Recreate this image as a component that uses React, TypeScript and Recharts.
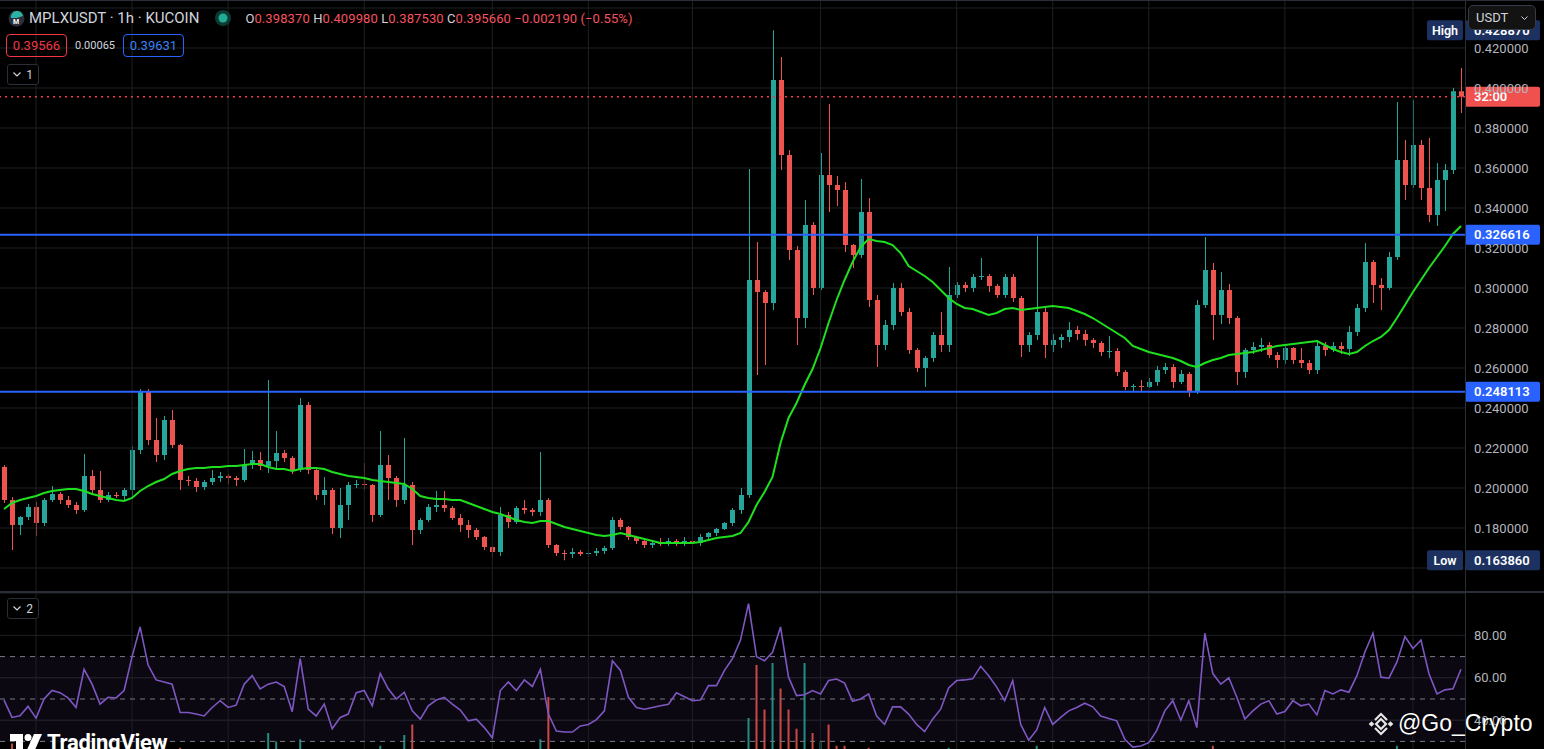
import React from 'react';
import {
  Bar,
  CartesianGrid,
  Cell,
  ComposedChart,
  Line,
  ReferenceArea,
  ReferenceLine,
  XAxis,
  YAxis,
} from 'recharts';

const ohlc: [number, number, number, number][] = [
  [0.2105, 0.2115, 0.1925, 0.194], [0.194, 0.1955, 0.169, 0.1815], [0.1815, 0.186, 0.1765, 0.1855],
  [0.1855, 0.192, 0.184, 0.1905], [0.1905, 0.193, 0.176, 0.1825], [0.1825, 0.195, 0.181, 0.194],
  [0.194, 0.201, 0.193, 0.197], [0.197, 0.198, 0.192, 0.194], [0.194, 0.196, 0.19, 0.1915],
  [0.1915, 0.193, 0.187, 0.189], [0.189, 0.217, 0.188, 0.206], [0.206, 0.209, 0.197, 0.199],
  [0.199, 0.2085, 0.1925, 0.194], [0.194, 0.198, 0.193, 0.1965], [0.1965, 0.198, 0.195, 0.196],
  [0.196, 0.2, 0.194, 0.199], [0.199, 0.221, 0.195, 0.219], [0.219, 0.2495, 0.217, 0.248],
  [0.248, 0.2495, 0.2215, 0.224], [0.224, 0.235, 0.213, 0.2165], [0.2165, 0.236, 0.214, 0.234],
  [0.234, 0.239, 0.22, 0.2215], [0.2215, 0.222, 0.199, 0.204], [0.204, 0.206, 0.201, 0.2035],
  [0.2035, 0.205, 0.198, 0.2005], [0.2005, 0.204, 0.199, 0.203], [0.203, 0.209, 0.2015, 0.205],
  [0.205, 0.208, 0.203, 0.206], [0.206, 0.207, 0.202, 0.205], [0.205, 0.206, 0.201, 0.204],
  [0.204, 0.2195, 0.203, 0.2115], [0.2115, 0.2185, 0.2095, 0.214], [0.214, 0.218, 0.209, 0.211],
  [0.211, 0.254, 0.2075, 0.2135], [0.2135, 0.2285, 0.209, 0.2175], [0.2175, 0.219, 0.213, 0.215],
  [0.215, 0.216, 0.207, 0.209], [0.209, 0.245, 0.208, 0.2415], [0.2415, 0.243, 0.207, 0.209],
  [0.209, 0.21, 0.194, 0.1965], [0.1965, 0.2055, 0.1915, 0.199], [0.199, 0.2, 0.177, 0.18],
  [0.18, 0.2, 0.175, 0.1915], [0.1915, 0.203, 0.184, 0.2015], [0.2015, 0.204, 0.2, 0.202],
  [0.202, 0.2125, 0.199, 0.2015], [0.2015, 0.202, 0.183, 0.1865], [0.1865, 0.2285, 0.1855, 0.2115],
  [0.2115, 0.2165, 0.194, 0.205], [0.205, 0.206, 0.1905, 0.194], [0.194, 0.225, 0.192, 0.2015],
  [0.2015, 0.203, 0.1715, 0.179], [0.179, 0.185, 0.177, 0.184], [0.184, 0.192, 0.183, 0.1905],
  [0.1905, 0.1985, 0.188, 0.1915], [0.1915, 0.1985, 0.188, 0.19], [0.19, 0.191, 0.184, 0.185],
  [0.185, 0.187, 0.178, 0.1815], [0.1815, 0.184, 0.175, 0.179], [0.179, 0.18, 0.174, 0.1755],
  [0.1755, 0.176, 0.169, 0.1705], [0.1705, 0.171, 0.165, 0.168], [0.168, 0.1905, 0.166, 0.1865],
  [0.1865, 0.188, 0.18, 0.183], [0.183, 0.191, 0.182, 0.19], [0.19, 0.194, 0.187, 0.189],
  [0.189, 0.19, 0.186, 0.188], [0.188, 0.218, 0.186, 0.194], [0.194, 0.195, 0.17, 0.1715],
  [0.1715, 0.172, 0.166, 0.1675], [0.1675, 0.169, 0.16386, 0.167], [0.167, 0.17, 0.165, 0.168],
  [0.168, 0.169, 0.166, 0.167], [0.167, 0.169, 0.1655, 0.1675], [0.1675, 0.17, 0.166, 0.1685],
  [0.1685, 0.171, 0.167, 0.17], [0.17, 0.1855, 0.169, 0.184], [0.184, 0.185, 0.179, 0.1805],
  [0.1805, 0.181, 0.174, 0.1755], [0.1755, 0.176, 0.172, 0.1735], [0.1735, 0.174, 0.17, 0.1715],
  [0.1715, 0.174, 0.17, 0.1725], [0.1725, 0.175, 0.171, 0.172], [0.172, 0.175, 0.171, 0.1735],
  [0.1735, 0.1745, 0.171, 0.1725], [0.1725, 0.1755, 0.171, 0.1735], [0.1735, 0.1745, 0.171, 0.1725],
  [0.1725, 0.177, 0.171, 0.1755], [0.1755, 0.178, 0.174, 0.1775], [0.1775, 0.18, 0.176, 0.1795],
  [0.1795, 0.183, 0.179, 0.1825], [0.1825, 0.19, 0.181, 0.189], [0.189, 0.2, 0.187, 0.1965],
  [0.1965, 0.3595, 0.195, 0.304], [0.304, 0.323, 0.2565, 0.298], [0.298, 0.299, 0.2615, 0.2925],
  [0.2925, 0.42887, 0.289, 0.404], [0.404, 0.4155, 0.359, 0.3665], [0.3665, 0.369, 0.314, 0.319],
  [0.319, 0.321, 0.2715, 0.285], [0.285, 0.344, 0.28, 0.3315], [0.3315, 0.333, 0.2965, 0.3],
  [0.3, 0.3675, 0.299, 0.3565], [0.3565, 0.392, 0.338, 0.3515], [0.3515, 0.356, 0.341, 0.349],
  [0.349, 0.353, 0.318, 0.3215], [0.3215, 0.322, 0.31, 0.3165], [0.3165, 0.3545, 0.315, 0.338],
  [0.338, 0.345, 0.2905, 0.294], [0.294, 0.2965, 0.2605, 0.2715], [0.2715, 0.284, 0.269, 0.2815],
  [0.2815, 0.3025, 0.279, 0.3], [0.3, 0.3025, 0.286, 0.288], [0.288, 0.29, 0.267, 0.269],
  [0.269, 0.27, 0.258, 0.26], [0.26, 0.266, 0.2505, 0.265], [0.265, 0.278, 0.263, 0.2765],
  [0.2765, 0.288, 0.268, 0.2715], [0.2715, 0.3105, 0.268, 0.2965], [0.2965, 0.303, 0.295, 0.3015],
  [0.3015, 0.303, 0.298, 0.3], [0.3, 0.307, 0.298, 0.3055], [0.3055, 0.315, 0.304, 0.306],
  [0.306, 0.307, 0.298, 0.301], [0.301, 0.302, 0.295, 0.2965], [0.2965, 0.307, 0.295, 0.3055],
  [0.3055, 0.307, 0.293, 0.295], [0.295, 0.296, 0.2655, 0.2715], [0.2715, 0.278, 0.268, 0.2765],
  [0.2765, 0.326, 0.274, 0.288], [0.288, 0.29, 0.265, 0.2715], [0.2715, 0.277, 0.268, 0.274],
  [0.274, 0.277, 0.27, 0.2755], [0.2755, 0.283, 0.273, 0.279], [0.279, 0.281, 0.274, 0.277],
  [0.277, 0.279, 0.271, 0.274], [0.274, 0.275, 0.27, 0.2725], [0.2725, 0.2735, 0.266, 0.268],
  [0.268, 0.276, 0.265, 0.2685], [0.2685, 0.27, 0.256, 0.258], [0.258, 0.259, 0.249, 0.2505],
  [0.2505, 0.252, 0.248, 0.251], [0.251, 0.254, 0.248, 0.2505], [0.2505, 0.255, 0.25, 0.253],
  [0.253, 0.261, 0.251, 0.259], [0.259, 0.2625, 0.257, 0.2605], [0.2605, 0.262, 0.25, 0.253],
  [0.253, 0.259, 0.252, 0.257], [0.257, 0.258, 0.2455, 0.248], [0.248, 0.294, 0.247, 0.2915],
  [0.2915, 0.3255, 0.29, 0.309], [0.309, 0.3125, 0.274, 0.2865], [0.2865, 0.308, 0.282, 0.299],
  [0.299, 0.302, 0.282, 0.285], [0.285, 0.286, 0.2515, 0.258], [0.258, 0.27, 0.255, 0.269],
  [0.269, 0.273, 0.267, 0.2705], [0.2705, 0.275, 0.268, 0.2715], [0.2715, 0.273, 0.265, 0.2665],
  [0.2665, 0.268, 0.26, 0.264], [0.264, 0.272, 0.262, 0.27], [0.27, 0.2705, 0.262, 0.264],
  [0.264, 0.27, 0.26, 0.2625], [0.2625, 0.264, 0.257, 0.259], [0.259, 0.274, 0.257, 0.271],
  [0.271, 0.273, 0.266, 0.269], [0.269, 0.273, 0.268, 0.271], [0.271, 0.273, 0.267, 0.2695],
  [0.2695, 0.281, 0.266, 0.278], [0.278, 0.292, 0.276, 0.29], [0.29, 0.3225, 0.288, 0.313],
  [0.313, 0.314, 0.2925, 0.3015], [0.3015, 0.305, 0.289, 0.3], [0.3, 0.318, 0.299, 0.3155],
  [0.3155, 0.393, 0.314, 0.364], [0.364, 0.374, 0.344, 0.3515], [0.3515, 0.394, 0.35, 0.3715],
  [0.3715, 0.374, 0.344, 0.35], [0.35, 0.375, 0.333, 0.3365], [0.3365, 0.3625, 0.331, 0.354],
  [0.354, 0.362, 0.3385, 0.359], [0.359, 0.4, 0.357, 0.39837], [0.39837, 0.40998, 0.38753, 0.39566],
];

// green moving average
const maValues = [
  0.1895, 0.1925, 0.194, 0.195, 0.196, 0.1975, 0.1985, 0.199, 0.1995, 0.1995,
  0.1985, 0.197, 0.196, 0.195, 0.194, 0.1935, 0.195, 0.1985, 0.201, 0.203,
  0.2045, 0.207, 0.2085, 0.2095, 0.21, 0.21, 0.2105, 0.2105, 0.211, 0.211,
  0.2115, 0.212, 0.212, 0.2105, 0.2095, 0.2095, 0.2085, 0.2095, 0.21, 0.21,
  0.2095, 0.208, 0.207, 0.206, 0.2055, 0.205, 0.204, 0.2035, 0.203, 0.2025,
  0.202, 0.1995, 0.196, 0.195, 0.1945, 0.1945, 0.194, 0.194, 0.1925, 0.191,
  0.1895, 0.188, 0.187, 0.1855, 0.184, 0.183, 0.1825, 0.1835, 0.1835, 0.182,
  0.1805, 0.1795, 0.1785, 0.1775, 0.1765, 0.176, 0.1765, 0.1775, 0.1765, 0.1755,
  0.1745, 0.1735, 0.1725, 0.1725, 0.1725, 0.1725, 0.1725, 0.173, 0.174, 0.175,
  0.1755, 0.176, 0.1775, 0.183, 0.1915, 0.198, 0.2055, 0.2225, 0.235, 0.2425,
  0.2515, 0.2595, 0.27, 0.2825, 0.294, 0.304, 0.313, 0.3205, 0.3245, 0.3235,
  0.323, 0.3215, 0.3175, 0.311, 0.3085, 0.306, 0.303, 0.299, 0.295, 0.292,
  0.29, 0.2895, 0.288, 0.2865, 0.2875, 0.2895, 0.29, 0.289, 0.2895, 0.29,
  0.2905, 0.291, 0.2905, 0.29, 0.2885, 0.287, 0.285, 0.2825, 0.28, 0.2775,
  0.275, 0.271, 0.2695, 0.268, 0.267, 0.266, 0.265, 0.2635, 0.2615, 0.2605,
  0.2625, 0.264, 0.265, 0.2665, 0.267, 0.2675, 0.268, 0.269, 0.27, 0.271,
  0.2715, 0.272, 0.2725, 0.273, 0.2735, 0.2715, 0.2695, 0.268, 0.267, 0.268,
  0.271, 0.2735, 0.2755, 0.279, 0.285, 0.2915, 0.298, 0.304, 0.31, 0.3155,
  0.321, 0.327, 0.331,
];

// RSI (pane 2)
const rsiValues = [
  49.5, 41.3, 42.1, 46.5, 41, 50, 54, 53, 50.5, 46,
  64, 57, 47.6, 50.8, 50.5, 54, 70, 84, 66, 59,
  58, 57, 43.6, 43.6, 42.9, 42, 46, 49.2, 46, 47.1,
  57, 61, 54.8, 57, 58, 55.9, 44, 69, 45.2, 42,
  47.6, 36, 41.3, 42.9, 53, 54, 46.8, 62, 54.8, 50,
  53.2, 44.4, 40.5, 46.8, 49.5, 50.8, 47.6, 44.8, 39.7, 40.5,
  36.5, 31.7, 54, 58, 54, 59, 55.9, 64, 42.9, 34.9,
  34.4, 34.4, 37.3, 38, 40.3, 44.4, 68, 63.5, 50.8, 46,
  45.2, 46, 46.8, 47.5, 52.9, 51.1, 49.2, 49.5, 56.3, 56.3,
  63.5, 69, 77.8, 95, 70, 68, 72, 84, 60.3, 51.6,
  52, 54, 52.4, 58.7, 59.4, 57.5, 48.9, 50, 52.4, 42,
  38, 46.3, 46.3, 42.9, 38, 34.6, 40.5, 45.2, 55.2, 58.7,
  59, 59.5, 65.4, 61, 55.6, 49.2, 58.7, 38, 30.5, 35.4,
  46, 38, 41.3, 44.4, 46, 48, 46.3, 42, 40.8, 39.7,
  31, 27.3, 27.8, 29.4, 35.2, 44.4, 49.2, 40, 49.2, 36.5,
  81, 62, 57, 60, 50.8, 40.5, 44.4, 47.6, 49.2, 42.9,
  44.1, 49.2, 46.8, 47.6, 42.5, 54, 52.4, 54.3, 53.2, 61,
  72.2, 81, 60.3, 59.8, 67.5, 79.4, 73.8, 77.8, 61.9, 52.4,
  54.3, 54.8, 64,
];

// volume, only the tallest bars poke into view at the bottom of pane 2
const volumes = [
  18, 29, 14, 12, 15, 13, 11, 10, 12, 11,
  20, 14, 13, 9, 8, 10, 19, 24, 22, 18,
  16, 15, 27, 10, 11, 9, 10, 8, 9, 8,
  14, 12, 11, 34, 30, 12, 13, 31, 22, 16,
  14, 18, 16, 15, 9, 11, 17, 28, 18, 14,
  33, 38, 13, 11, 10, 9, 10, 12, 11, 10,
  12, 13, 22, 12, 11, 9, 8, 31, 51, 14,
  12, 9, 8, 8, 9, 10, 20, 12, 11, 9,
  8, 7, 7, 8, 7, 8, 7, 9, 9, 10,
  12, 15, 22, 41, 66, 45, 67, 55, 45, 36,
  67, 34, 30, 38, 28, 28, 20, 24, 27, 22,
  16, 18, 15, 17, 16, 14, 15, 13, 27, 14,
  10, 11, 12, 10, 11, 12, 11, 17, 14, 28,
  16, 10, 9, 11, 9, 9, 10, 11, 12, 15,
  14, 9, 8, 8, 10, 9, 12, 9, 16, 25,
  24, 28, 17, 14, 20, 13, 9, 8, 10, 11,
  10, 9, 9, 10, 12, 9, 8, 9, 13, 15,
  22, 16, 13, 15, 28, 22, 24, 20, 23, 19,
  17, 24, 18,
];

const priceTicks = [0.16, 0.18, 0.2, 0.22, 0.24, 0.26, 0.28, 0.3, 0.32, 0.34, 0.36, 0.38, 0.4, 0.42, 0.44];
const hiddenTicks = [0.16, 0.44]; // sit under the Low tag and the USDT button
const rsiTicks = [20, 40, 60, 80];
const rsiBands = [70, 50, 30];
// candle index where a day separator falls
const dayLines = [4, 16, 28, 45, 61, 73, 86, 102, 119, 131, 143, 160, 176];
const levelLines = [0.326616, 0.248113];
const lastPrice = 0.39566;
const highPrice = 0.42887;
const lowPrice = 0.16386;

const UP = '#26a69a';
const DOWN = '#ef5350';
const GRID = '#1f2023';
const BORDER = '#2a2e39';
const FONT = 'Roboto, sans-serif';

const data = ohlc.map(([o, h, l, c], i) => ({
  i,
  o,
  h,
  l,
  c,
  range: [l, h],
  ma: maValues[i],
  rsi: rsiValues[i],
  vol: volumes[i],
}));

function Candle(props: any) {
  const { x, y, width, height, payload } = props;
  if (!payload || height == null) return null;
  const { o, h, l, c } = payload;
  const span = h - l || 1e-9;
  const toY = (v: number) => y + ((h - v) / span) * height;
  const cx = Math.round(x + width / 2);
  const top = toY(Math.max(o, c));
  const bottom = toY(Math.min(o, c));
  const color = c >= o ? UP : DOWN;
  return (
    <g>
      <rect x={cx} y={y} width={1} height={Math.max(1, height)} fill={color} />
      <rect x={cx - 2} y={top} width={5} height={Math.max(1, bottom - top)} fill={color} />
    </g>
  );
}

function PriceTag(props: any) {
  const { viewBox, text, bg, color = '#ffffff', side } = props;
  if (!viewBox) return null;
  const left = viewBox.x + viewBox.width;
  const y = viewBox.y;
  return (
    <g fontFamily={FONT}>
      {side && (
        <g>
          <rect x={left - 38} y={y - 10} width={36} height={20} rx={2} fill={bg} />
          <text x={left - 20} y={y + 4.5} textAnchor="middle" fill="#ffffff" fontSize={12.5} fontWeight={600}>
            {side}
          </text>
        </g>
      )}
      <rect x={left} y={y - 10} width={75} height={20} rx={2} fill={bg} />
      <text x={left + 9} y={y + 4.5} fill={color} fontSize={13} fontWeight={600}>
        {text}
      </text>
    </g>
  );
}

const Chevron = () => (
  <svg width="8" height="5" style={{ marginRight: 5 }}>
    <path d="M0.5 0.5 L4 4 L7.5 0.5" stroke="#d1d4dc" strokeWidth="1.2" fill="none" />
  </svg>
);

const paneButton = (label: string, top: number) => (
  <div
    style={{
      position: 'absolute', left: 7, top, width: 30, height: 19, border: `1px solid ${BORDER}`,
      borderRadius: 3, display: 'flex', alignItems: 'center', justifyContent: 'center',
      color: '#d1d4dc', fontSize: 12, background: '#000',
    }}
  >
    <Chevron />
    {label}
  </div>
);

export default function App() {
  return (
    <div
      style={{
        position: 'fixed', left: 0, top: 0, width: 1544, height: 749, overflow: 'hidden',
        background: '#000000', fontFamily: FONT,
      }}
    >
      <div style={{ position: 'absolute', left: 0, top: 0 }}>
        <ComposedChart width={1544} height={592} data={data} margin={{ top: 0, right: 0, bottom: 0, left: 0 }} barCategoryGap={0}>
          <CartesianGrid stroke={GRID} vertical={false} />
          <XAxis dataKey="i" type="category" scale="band" hide />
          <YAxis
            orientation="right"
            width={79}
            domain={[0.148, 0.444]}
            allowDataOverflow
            ticks={priceTicks}
            tickFormatter={(v: number) => (hiddenTicks.includes(v) ? '' : v.toFixed(6))}
            tick={{ fill: '#b2b5be', fontSize: 13, fontFamily: FONT }}
            tickMargin={3}
            axisLine={false}
            tickLine={false}
          />
          {dayLines.map((d) => (
            <ReferenceLine key={d} x={d} stroke={GRID} />
          ))}
          <Bar dataKey="range" shape={<Candle />} isAnimationActive={false} />
          <Line dataKey="ma" stroke="#1fe01f" strokeWidth={2} dot={false} isAnimationActive={false} />
          {levelLines.map((v) => (
            <ReferenceLine
              key={v}
              y={v}
              stroke="#2962ff"
              strokeWidth={2}
              label={<PriceTag text={v.toFixed(6)} bg="#2962ff" />}
            />
          ))}
          <ReferenceLine
            y={lastPrice}
            stroke="#f23645"
            strokeWidth={1.5}
            strokeDasharray="2 4"
            label={<PriceTag text="32:00" bg="#f0514f" />}
          />
          <ReferenceLine y={highPrice} stroke="none" label={<PriceTag text={highPrice.toFixed(6)} bg="#1c3160" side="High" />} />
          <ReferenceLine y={lowPrice} stroke="none" label={<PriceTag text={lowPrice.toFixed(6)} bg="#1c3160" side="Low" />} />
        </ComposedChart>
      </div>

      <div style={{ position: 'absolute', left: 0, top: 593 }}>
        <ComposedChart width={1544} height={212} data={data} margin={{ top: 0, right: 0, bottom: 0, left: 0 }}>
          <CartesianGrid stroke={GRID} vertical={false} />
          <XAxis dataKey="i" type="category" scale="band" hide />
          <YAxis
            orientation="right"
            width={79}
            domain={[0, 100]}
            allowDataOverflow
            ticks={rsiTicks}
            tickFormatter={(v: number) => v.toFixed(2)}
            tick={{ fill: '#b2b5be', fontSize: 13, fontFamily: FONT }}
            tickMargin={3}
            axisLine={false}
            tickLine={false}
          />
          <YAxis yAxisId="vol" hide domain={[0, 100]} allowDataOverflow />
          {dayLines.map((d) => (
            <ReferenceLine key={d} x={d} stroke={GRID} />
          ))}
          <ReferenceArea y1={30} y2={70} fill="#7e57c2" fillOpacity={0.09} stroke="none" />
          {rsiBands.map((b) => (
            <ReferenceLine key={b} y={b} stroke="#787b86" strokeDasharray="5 5" />
          ))}
          <Bar dataKey="vol" yAxisId="vol" barSize={2} isAnimationActive={false}>
            {data.map((d) => (
              <Cell key={d.i} fill={d.c >= d.o ? UP : DOWN} fillOpacity={0.85} />
            ))}
          </Bar>
          <Line dataKey="rsi" stroke="#7e57c2" strokeWidth={1.6} dot={false} isAnimationActive={false} />
        </ComposedChart>
      </div>

      {/* frame lines */}
      <div style={{ position: 'absolute', left: 0, top: 0, width: 1544, height: 1, background: BORDER }} />
      <div style={{ position: 'absolute', left: 0, top: 591, width: 1544, height: 2, background: BORDER }} />
      <div style={{ position: 'absolute', left: 1465, top: 0, width: 1, height: 749, background: BORDER }} />

      {/* legend */}
      <div style={{ position: 'absolute', left: 8, top: 9, display: 'flex', alignItems: 'center', color: '#d1d4dc' }}>
        <svg width="17" height="17" style={{ marginRight: 4 }}>
          <circle cx="8.5" cy="8.5" r="8" fill="#2b2f3a" />
          <path d="M3 8 A6 6 0 0 1 15 6 L9 8 Z" fill="#2bb3a5" />
          <text x="5" y="14" fontSize="7" fill="#fff" fontWeight="700">M</text>
        </svg>
        <span style={{ fontSize: 15 }}>MPLXUSDT · 1h · KUCOIN</span>
        <svg width="18" height="18" style={{ marginLeft: 15, marginRight: 13 }}>
          <circle cx="9" cy="9" r="8" fill="#0d3b33" />
          <circle cx="9" cy="9" r="4.5" fill="#22ab94" />
        </svg>
        <span style={{ fontSize: 13, letterSpacing: 0.1 }}>
          O<span style={{ color: '#f7525f' }}>0.398370</span> H<span style={{ color: '#f7525f' }}>0.409980</span>{' '}
          L<span style={{ color: '#f7525f' }}>0.387530</span> C<span style={{ color: '#f7525f' }}>0.395660</span>{' '}
          <span style={{ color: '#f7525f' }}>−0.002190 (−0.55%)</span>
        </span>
      </div>
      <div style={{ position: 'absolute', left: 6, top: 34, display: 'flex', alignItems: 'center' }}>
        <div style={{ width: 59, height: 21, border: '1px solid #f23645', borderRadius: 4, color: '#f23645', fontSize: 13, display: 'flex', alignItems: 'center', justifyContent: 'center' }}>
          0.39566
        </div>
        <div style={{ width: 56, textAlign: 'center', color: '#d1d4dc', fontSize: 11 }}>0.00065</div>
        <div style={{ width: 59, height: 21, border: '1px solid #2962ff', borderRadius: 4, color: '#3b82f6', fontSize: 13, display: 'flex', alignItems: 'center', justifyContent: 'center' }}>
          0.39631
        </div>
      </div>
      {paneButton('1', 64)}
      {paneButton('2', 598)}

      {/* currency button */}
      <div
        style={{
          position: 'absolute', left: 1468, top: 5, width: 68, height: 25, background: '#131313',
          border: '1px solid #363a45', borderRadius: 5, color: '#d1d4dc', fontSize: 13,
          display: 'flex', alignItems: 'center', justifyContent: 'space-between', padding: '0 7px', boxSizing: 'border-box',
        }}
      >
        <span>USDT</span>
        <svg width="7" height="4">
          <path d="M0.5 0.5 L3.5 3.5 L6.5 0.5" stroke="#d1d4dc" strokeWidth="1" fill="none" />
        </svg>
      </div>

      {/* TradingView mark */}
      <div style={{ position: 'absolute', left: 10, top: 730, display: 'flex', alignItems: 'center', color: '#ffffff' }}>
        <svg width="32" height="18" style={{ marginRight: 5 }}>
          <path d="M0 0 H13 V18 H6 V7 H0 Z" fill="#ffffff" />
          <circle cx="18" cy="3.5" r="3.5" fill="#ffffff" />
          <path d="M24 0 H32 L24 18 H16 Z" fill="#ffffff" />
        </svg>
        <span style={{ fontSize: 22, fontWeight: 700, letterSpacing: -0.3 }}>TradingView</span>
      </div>

      {/* watermark */}
      <div style={{ position: 'absolute', left: 1368, top: 710, display: 'flex', alignItems: 'center', color: '#ffffff' }}>
        <svg width="26" height="26" viewBox="0 0 26 26" style={{ marginRight: 4 }}>
          <g fill="none" stroke="#e6e6e6" strokeWidth="2.2">
            <rect x="9.5" y="9.5" width="7" height="7" transform="rotate(45 13 13)" />
            <path d="M7 9 L13 3 L19 9" />
            <path d="M7 17 L13 23 L19 17" />
          </g>
          <rect x="1.5" y="11" width="4" height="4" transform="rotate(45 3.5 13)" fill="#e6e6e6" />
          <rect x="20.5" y="11" width="4" height="4" transform="rotate(45 22.5 13)" fill="#e6e6e6" />
        </svg>
        <span style={{ fontSize: 23, fontFamily: '"Liberation Sans", Arial, sans-serif', textShadow: '0 0 2px #000' }}>@Go_Crypto</span>
      </div>
    </div>
  );
}
